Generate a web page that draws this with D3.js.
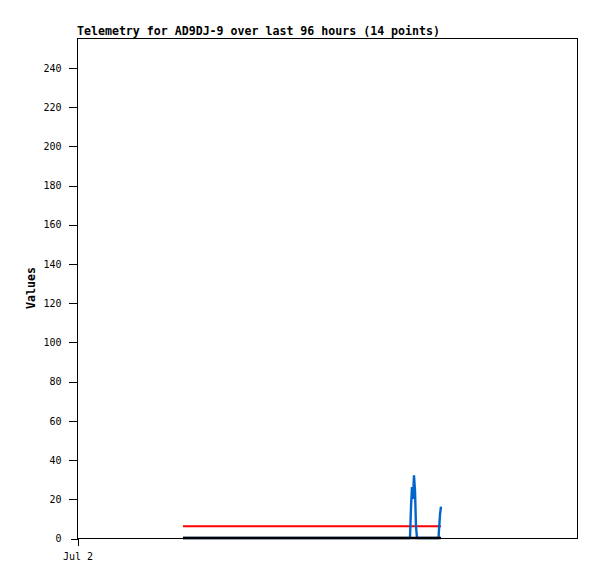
<!DOCTYPE html>
<html><head><meta charset="utf-8">
<script src="https://cdn.jsdelivr.net/npm/d3@7"></script>
<style>body{margin:0;background:#fff}</style>
</head><body><svg id="c" width="597" height="579"></svg>
<script>
const title = "Telemetry for AD9DJ-9 over last 96 hours (14 points)";
const times = ["2024-07-02T20:21","2024-07-03T18:49","2024-07-04T15:56","2024-07-04T16:08","2024-07-04T16:19","2024-07-04T16:31","2024-07-04T16:42","2024-07-04T16:54","2024-07-04T17:05","2024-07-04T17:17","2024-07-04T21:25","2024-07-04T21:30","2024-07-04T21:42","2024-07-04T21:53"];
const blueVals  = [0,0,0,16,26,20,32,24,6,0,0,4,12,16];
const redVals   = [6,6,6,6,6,6,6,6,6,6,6,6,6,6];
const blackVals = [0,0,0,0,0,0,0,0,0,0,0,0,0,0];
const yTicks = [0,20,40,60,80,100,120,140,160,180,200,220,240];
const xTickLabels = ["Jul 2"];

const svg = d3.select("#c");
const L=77,R=577,T=38,B=538;
const parse = d3.timeParse("%Y-%m-%dT%H:%M");
const tms = times.map(parse);
const x = d3.scaleTime().domain([parse("2024-07-02T00:00"), parse("2024-07-06T00:00")]).range([L,R]);
const y = d3.scaleLinear().domain([0,255]).range([B,T]);
const font = "'DejaVu Sans Mono', monospace";

function line(vals, color, w){
  const g = d3.line().x((d,i)=>x(tms[i])).y(d=>y(d));
  svg.append("path").attr("d", g(vals)).attr("fill","none").attr("stroke",color)
    .attr("stroke-width",w).attr("stroke-linejoin","bevel");
}
line(redVals,"#ff0000",2);
line(blueVals,"#0066cc",2.4);
line(blackVals,"#000000",2.6);

svg.append("rect").attr("x",L+0.5).attr("y",T+0.5).attr("width",R-L).attr("height",B-T)
  .attr("fill","none").attr("stroke","#000").attr("stroke-width",1).attr("shape-rendering","crispEdges");

const ya = svg.append("g").attr("transform",`translate(${L+0.5},0.5)`)
  .call(d3.axisLeft(y).tickValues(yTicks).tickSize(9).tickPadding(7).tickFormat(d3.format("d")));
ya.select(".domain").remove();
ya.selectAll("line").attr("shape-rendering","crispEdges");
ya.selectAll("text").attr("font-family",font).attr("font-size","10px").attr("fill","#000");
ya.selectAll(".tick").filter(d=>d===0).select("line").attr("x2",-7);

const xa = svg.append("g").attr("transform",`translate(0.5,${B+0.5})`)
  .call(d3.axisBottom(x).tickValues([parse("2024-07-02T00:00")]).tickSize(7).tickPadding(7).tickFormat((d,i)=>xTickLabels[i]));
xa.select(".domain").remove();
xa.selectAll("line").attr("shape-rendering","crispEdges");
xa.selectAll("text").attr("font-family",font).attr("font-size","10px").attr("fill","#000");

svg.append("text").attr("x",L).attr("y",35).text(title)
  .attr("font-family",font).attr("font-size","11.6px").attr("font-weight","bold");
svg.append("text").attr("transform",`translate(35,${(T+B)/2}) rotate(-90)`).attr("text-anchor","middle").text("Values")
  .attr("font-family",font).attr("font-size","11.6px").attr("font-weight","bold");
</script></body></html>
